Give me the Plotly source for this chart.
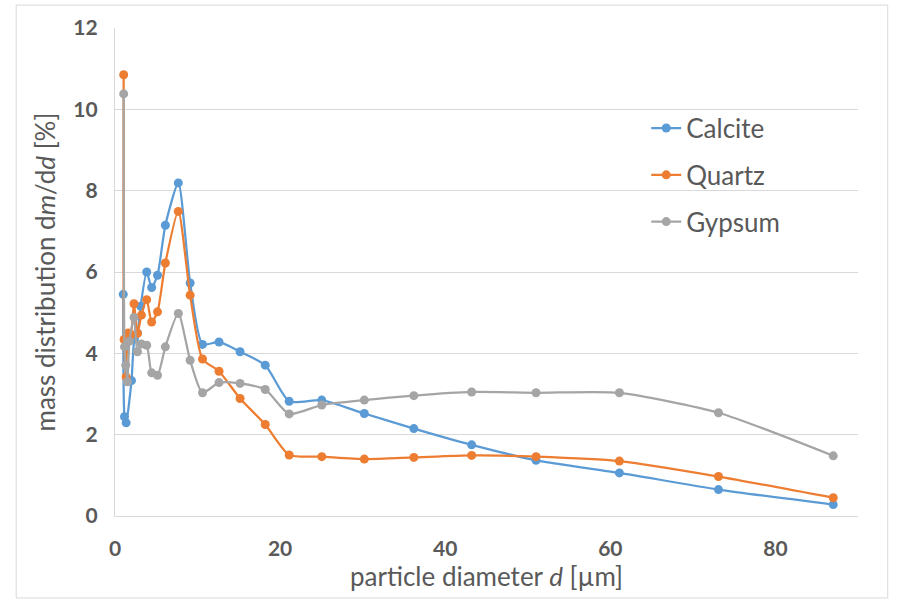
import plotly.graph_objects as go

# particle diameter d [µm] for each series
x_calcite = [1.0, 1.15, 1.35, 2.0, 2.35, 2.72, 3.1, 3.84, 4.44, 5.15, 6.1, 7.67, 9.1, 10.6, 12.6,
             15.15, 18.2, 21.1, 25.05, 30.2, 36.2, 43.2, 51.0, 61.1, 73.1, 87.0]
y_calcite = [5.45, 2.44, 2.29, 3.33, 4.35, 4.5, 5.16, 6.0, 5.62, 5.92, 7.15, 8.19, 5.73, 4.22, 4.28,
             4.04, 3.71, 2.82, 2.85, 2.52, 2.15, 1.75, 1.37, 1.06, 0.65, 0.28]

x_quartz = [1.05, 1.1, 1.35, 1.6, 1.9, 2.3, 2.72, 3.2, 3.84, 4.44, 5.15, 6.1, 7.67, 9.1, 10.6, 12.6,
            15.15, 18.2, 21.1, 25.05, 30.2, 36.2, 43.2, 51.0, 61.1, 73.1, 87.0]
y_quartz = [10.85, 4.34, 3.42, 4.5, 4.45, 5.22, 4.49, 4.94, 5.32, 4.77, 5.02, 6.22, 7.49, 5.43, 3.86, 3.56,
            2.89, 2.25, 1.50, 1.46, 1.40, 1.44, 1.49, 1.46, 1.35, 0.97, 0.45]

x_gypsum = [1.05, 1.15, 1.3, 1.5, 1.75, 2.3, 2.72, 3.2, 3.84, 4.44, 5.15, 6.1, 7.67, 9.1, 10.6, 12.6,
            15.15, 18.2, 21.1, 25.05, 30.2, 36.2, 43.2, 51.0, 61.1, 73.1, 87.0]
y_gypsum = [10.38, 4.16, 3.71, 3.3, 4.3, 4.88, 4.04, 4.23, 4.2, 3.52, 3.46, 4.16, 4.98, 3.83, 3.03, 3.28,
            3.26, 3.11, 2.51, 2.73, 2.85, 2.96, 3.05, 3.03, 3.03, 2.54, 1.48]

series = [
    ("Calcite", x_calcite, y_calcite, "#5B9BD5"),
    ("Quartz", x_quartz, y_quartz, "#ED7D31"),
    ("Gypsum", x_gypsum, y_gypsum, "#A5A5A5"),
]

x_ticks = [0, 20, 40, 60, 80]
y_ticks = [0, 2, 4, 6, 8, 10, 12]

FONT = "Lato, 'Open Sans', sans-serif"
TXT = "#595959"

fig = go.Figure()
for name, xs, ys, col in series:
    fig.add_trace(go.Scatter(
        x=xs, y=ys, name=name, mode="lines+markers", legendgroup=name,
        line=dict(color=col, width=2.25, shape="spline", smoothing=0.6),
        marker=dict(color=col, size=9),
    ))

fig.update_layout(
    width=903, height=604,
    margin=dict(l=115, r=45, t=28, b=88),
    paper_bgcolor="white", plot_bgcolor="white",
    font=dict(family=FONT, color=TXT),
    showlegend=True,
    legend=dict(x=0.715, y=0.843, xanchor="left", yanchor="top",
                font=dict(size=26, color=TXT, family=FONT),
                bgcolor="rgba(0,0,0,0)", tracegroupgap=10, itemwidth=30),
    xaxis=dict(range=[0, 90], tickvals=x_ticks, showgrid=False, zeroline=False,
               showline=True, linecolor="#D9D9D9", linewidth=1.3, ticks="",
               ticklabelstandoff=14,
               tickfont=dict(size=21, color=TXT, family=FONT, weight="bold"),
               title=dict(text="particle diameter <i>d</i> [µm]", font=dict(size=26, color=TXT, family=FONT), standoff=6)),
    yaxis=dict(range=[0, 12], tickvals=y_ticks, showgrid=True, gridcolor="#D9D9D9", gridwidth=1.3,
               zeroline=False, showline=True, linecolor="#D9D9D9", linewidth=1.3, ticks="",
               ticklabelstandoff=12,
               tickfont=dict(size=21, color=TXT, family=FONT, weight="bold"),
               title=dict(text="mass distribution d<i>m</i>/d<i>d</i> [%]", font=dict(size=26, color=TXT, family=FONT), standoff=10)),
)

fig.add_shape(type="rect", xref="paper", yref="paper",
              x0=-0.133, x1=1.040, y0=-0.168, y1=1.047,
              line=dict(color="#D9D9D9", width=1), fillcolor="rgba(0,0,0,0)", layer="below")

fig.write_html("out.html")
